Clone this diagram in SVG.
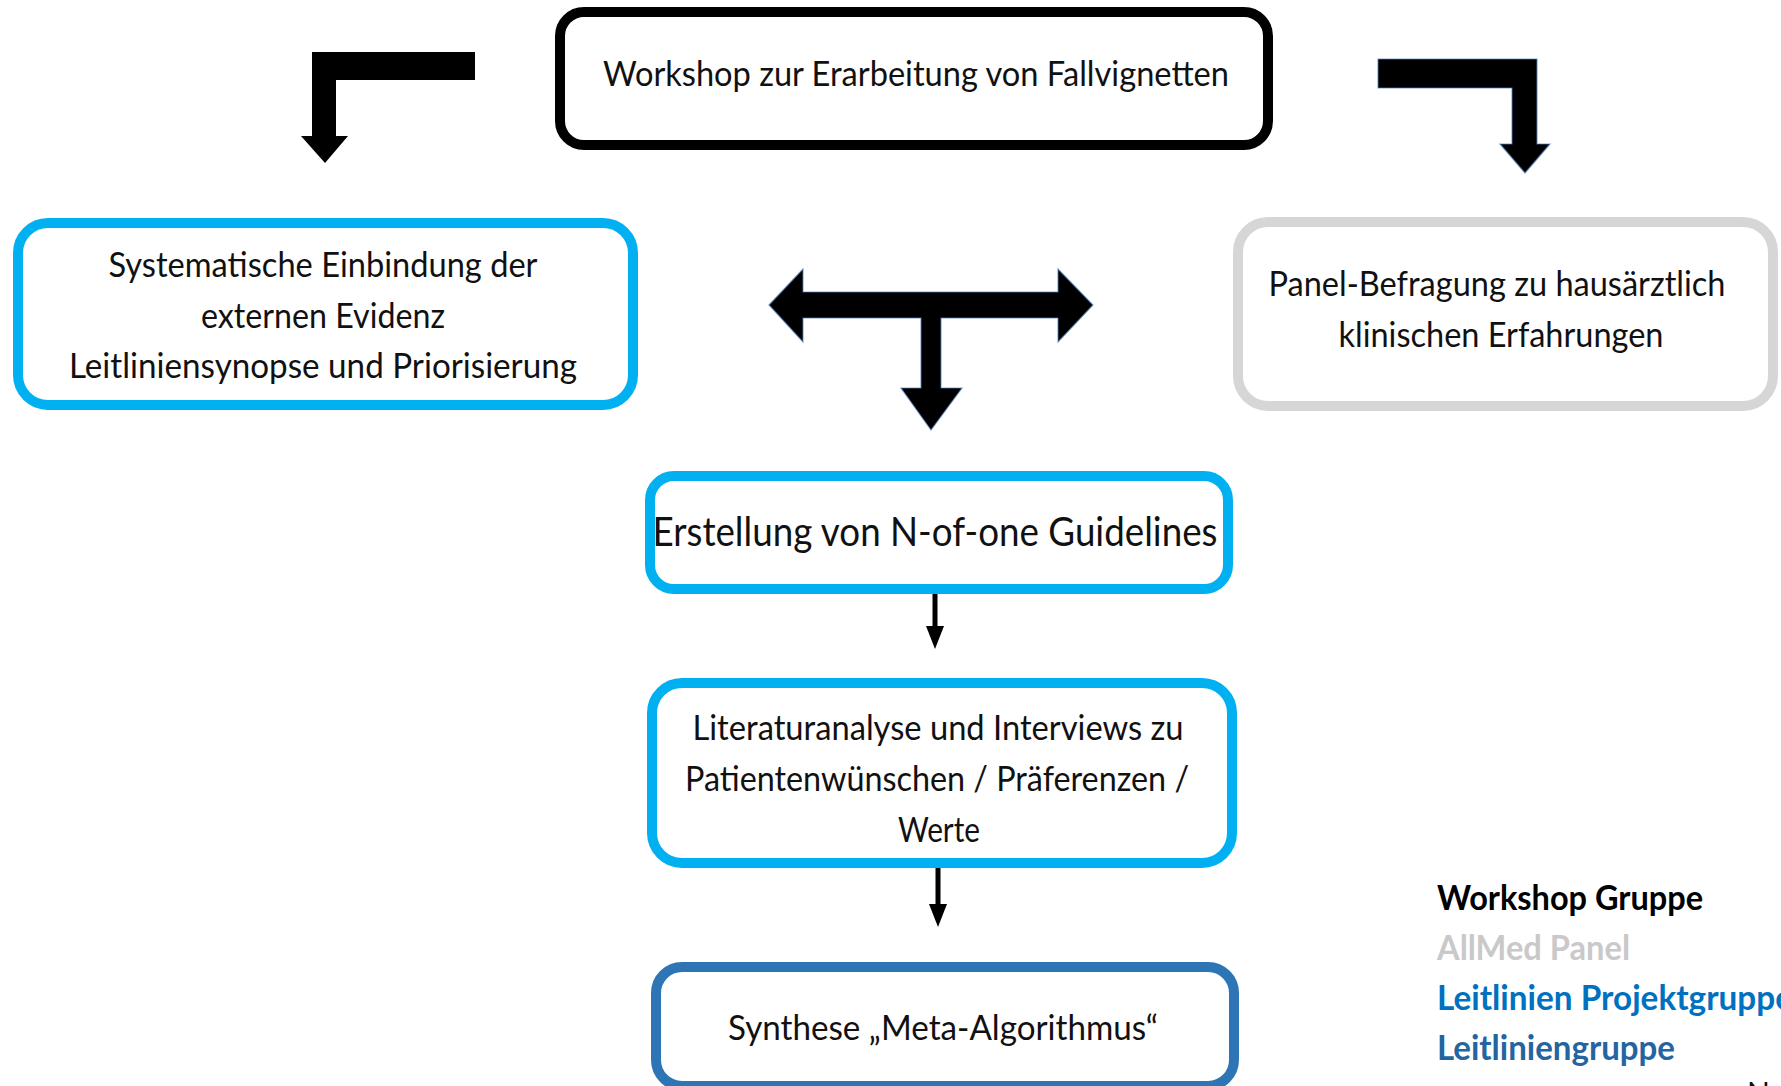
<svg xmlns="http://www.w3.org/2000/svg" width="1781" height="1086" viewBox="0 0 1781 1086">
  <style>
    .box { fill: #ffffff; stroke-width: 10; }
    .black { stroke: #000000; }
    .cyan { stroke: #00B0F0; }
    .grey { stroke: #D6D6D6; }
    .navy { stroke: #2E75B6; }
    .lbl { font-family: Lato, "Liberation Sans", sans-serif; font-size: 35px; fill: #111111; text-anchor: middle; }
    .big { font-size: 41px; }
    .legend { font-family: Lato, "Liberation Sans", sans-serif; font-size: 35px; font-weight: bold; }
    .fat { fill: #000000; }
    .edge { stroke: #4F82BD; stroke-width: 1.2; stroke-opacity: 0.7; }
    .thin { stroke: #000000; stroke-width: 5; fill: none; }
  </style>

  <!-- connectors: thick block arrows and thin flow arrows -->
  <g id="connectors">
    <path id="elbow-left" class="fat" d="M475,52 H312 V136 H301 L325,163 L348,136 H336 V80 H475 Z"/>
    <path id="elbow-right" class="fat edge" d="M1378,59 H1537 V144 H1550 L1525,173 L1500,144 H1512 V88 H1378 Z"/>
    <path id="tee" class="fat edge" d="M769,305 L803,269 V292 H1058 V269 L1093,305 L1058,342 V318 H941 V388 H962 L931,430 L901,388 H921 V318 H803 V342 Z"/>
    <line class="thin" x1="935" y1="593" x2="935" y2="628"/>
    <polygon class="fat" points="926,626 944,626 935,649"/>
    <line class="thin" x1="938" y1="866" x2="938" y2="906"/>
    <polygon class="fat" points="929,904 947,904 938,927"/>
  </g>

  <g id="workshop">
    <rect class="box black" x="560" y="12" width="708" height="133" rx="24"/>
    <text class="lbl" x="916" y="86" textLength="626" lengthAdjust="spacingAndGlyphs">Workshop zur Erarbeitung von Fallvignetten</text>
  </g>

  <g id="evidenz">
    <rect class="box cyan" x="18" y="223" width="615" height="182" rx="30"/>
    <text class="lbl" x="323" y="277" textLength="429" lengthAdjust="spacingAndGlyphs">Systematische Einbindung der</text>
    <text class="lbl" x="323" y="328" textLength="244" lengthAdjust="spacingAndGlyphs">externen Evidenz</text>
    <text class="lbl" x="323" y="378" textLength="508" lengthAdjust="spacingAndGlyphs">Leitliniensynopse und Priorisierung</text>
  </g>

  <g id="panel">
    <rect class="box grey" x="1238" y="222" width="535" height="184" rx="30"/>
    <text class="lbl" x="1497" y="296" textLength="457" lengthAdjust="spacingAndGlyphs">Panel-Befragung zu hausärztlich</text>
    <text class="lbl" x="1501" y="347" textLength="325" lengthAdjust="spacingAndGlyphs">klinischen Erfahrungen</text>
  </g>

  <g id="guidelines">
    <rect class="box cyan" x="650" y="476" width="578" height="113" rx="24"/>
    <text class="lbl big" x="935" y="546" textLength="565" lengthAdjust="spacingAndGlyphs">Erstellung von N-of-one Guidelines</text>
  </g>

  <g id="literatur">
    <rect class="box cyan" x="652" y="683" width="580" height="180" rx="30"/>
    <text class="lbl" x="938" y="740" textLength="491" lengthAdjust="spacingAndGlyphs">Literaturanalyse und Interviews zu</text>
    <text class="lbl" x="937" y="791" textLength="504" lengthAdjust="spacingAndGlyphs">Patientenwünschen / Präferenzen /</text>
    <text class="lbl" x="939" y="842" textLength="82" lengthAdjust="spacingAndGlyphs">Werte</text>
  </g>

  <g id="synthese">
    <rect class="box navy" x="656" y="967" width="578" height="119" rx="26"/>
    <text class="lbl" x="943" y="1040" textLength="430" lengthAdjust="spacingAndGlyphs">Synthese „Meta-Algorithmus“</text>
  </g>

  <g id="legend" class="legend">
    <text x="1437" y="910" fill="#000000" textLength="266" lengthAdjust="spacingAndGlyphs">Workshop Gruppe</text>
    <text x="1437" y="960" fill="#C9C9C9" textLength="193" lengthAdjust="spacingAndGlyphs">AllMed Panel</text>
    <text x="1437" y="1010" fill="#0070C0" textLength="356" lengthAdjust="spacingAndGlyphs">Leitlinien Projektgruppe</text>
    <text x="1437" y="1060" fill="#24649F" textLength="238" lengthAdjust="spacingAndGlyphs">Leitliniengruppe</text>
  </g>

  <text x="1747" y="1104" font-family="Lato, 'Liberation Sans', sans-serif" font-size="30" fill="#111111">N</text>
</svg>
